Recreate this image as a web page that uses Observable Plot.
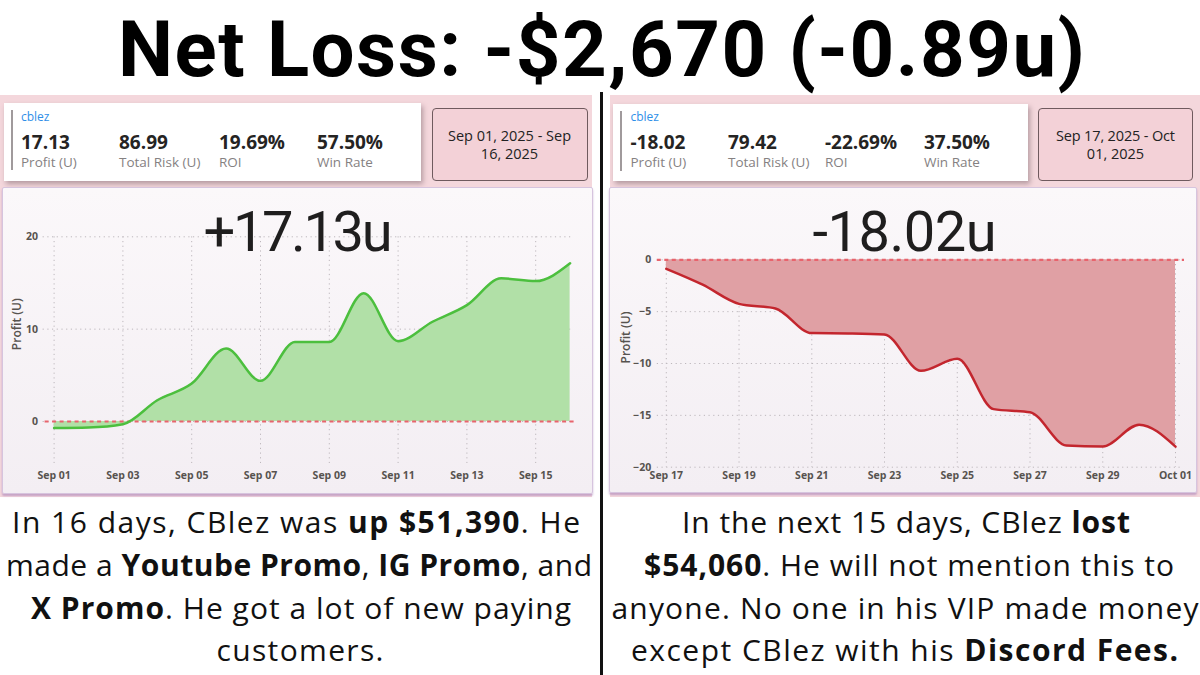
<!DOCTYPE html>
<html><head><meta charset="utf-8">
<script src="https://cdn.jsdelivr.net/npm/d3@7"></script>
<script src="https://cdn.jsdelivr.net/npm/@observablehq/plot@0.6"></script>
<style>
html,body{margin:0;padding:0;background:#fff;width:1200px;height:675px;overflow:hidden;}
#root{position:relative;width:1200px;height:675px;}
.abs{position:absolute;}
.pink{background:#f4d7dc;}
.kpi{background:#fff;box-shadow:2px 3px 5px rgba(60,40,50,.35);}
.date{background:#f3d1d7;border:1px solid #6f5a5e;border-radius:4px;box-sizing:border-box;}
.card{background:linear-gradient(#fbf8fa,#f3eef3);border:1.5px solid #d6c4de;box-sizing:border-box;box-shadow:0 2px 2px rgba(160,120,180,.55);border-radius:2px;}
.accent{background:#a09a9c;}
svg{overflow:visible;}
</style></head><body><div id="root">
<div class="abs pink" style="left:0;top:95px;width:592px;height:402px"></div>
<div class="abs pink" style="left:610px;top:95px;width:590px;height:402px"></div>
<div class="abs" style="left:600px;top:92px;width:3px;height:583px;background:#111"></div>
<div class="abs kpi" style="left:4px;top:103px;width:417px;height:78px"></div>
<div class="abs accent" style="left:11px;top:110px;width:1.5px;height:60px"></div>
<div class="abs date" style="left:432px;top:108px;width:156px;height:73px"></div>
<div class="abs card" style="left:2px;top:187px;width:591px;height:307px"></div>
<div class="abs kpi" style="left:613px;top:104px;width:415px;height:77px"></div>
<div class="abs accent" style="left:620px;top:111px;width:1.5px;height:60px"></div>
<div class="abs date" style="left:1038px;top:108px;width:155px;height:73px"></div>
<div class="abs card" style="left:609px;top:187px;width:588px;height:306px"></div>
<div id="leftChart" class="abs" style="left:3px;top:187px"></div>
<div id="rightChart" class="abs" style="left:610px;top:187px"></div>
<svg id="overlay" class="abs" style="left:0;top:0" width="1200" height="675"></svg>
</div>
<script>
// ---------- data ----------
const titleText = "Net Loss: -$2,670 (-0.89u)";

const leftDates = ["2025-09-01","2025-09-02","2025-09-03","2025-09-04","2025-09-05","2025-09-06","2025-09-07","2025-09-08",
  "2025-09-09","2025-09-10","2025-09-11","2025-09-12","2025-09-13","2025-09-14","2025-09-15","2025-09-16"];
const leftProfit = [-0.7, -0.65, -0.3, 2.3, 4.1, 7.9, 4.4, 8.6, 8.6, 13.9, 8.7, 10.8, 12.6, 15.5, 15.2, 17.13];
const leftXTicks = ["2025-09-01","2025-09-03","2025-09-05","2025-09-07","2025-09-09","2025-09-11","2025-09-13","2025-09-15"];
const leftYTicks = [0, 10, 20];

const rightDates = ["2025-09-17","2025-09-18","2025-09-19","2025-09-20","2025-09-21","2025-09-22","2025-09-23","2025-09-24",
  "2025-09-25","2025-09-26","2025-09-27","2025-09-28","2025-09-29","2025-09-30","2025-10-01"];
const rightProfit = [-0.87, -2.4, -4.25, -4.7, -7.07, -7.1, -7.2, -10.7, -9.55, -14.4, -14.7, -17.9, -18.0, -15.9, -18.02];
const rightXTicks = ["2025-09-17","2025-09-19","2025-09-21","2025-09-23","2025-09-25","2025-09-27","2025-09-29","2025-10-01"];
const rightYTicks = [0, -5, -10, -15, -20];

const kpiLabels = ["Profit (U)", "Total Risk (U)", "ROI", "Win Rate"];
const leftKpiValues = ["17.13", "86.99", "19.69%", "57.50%"];
const rightKpiValues = ["-18.02", "79.42", "-22.69%", "37.50%"];
const userName = "cblez";
const leftDateRange = ["Sep 01, 2025 - Sep", "16, 2025"];
const rightDateRange = ["Sep 17, 2025 - Oct", "01, 2025"];
const leftBig = "+17.13u";
const rightBig = "-18.02u";
const yLabel = "Profit (U)";

const leftParagraph = [
  [["In 16 days, CBlez was ", 0], ["up $51,390", 1], [". He", 0]],
  [["made a ", 0], ["Youtube Promo", 1], [", ", 0], ["IG Promo", 1], [", and", 0]],
  [["X Promo", 1], [". He got a lot of new paying", 0]],
  [["customers.", 0]]
];
const rightParagraph = [
  [["In the next 15 days, CBlez ", 0], ["lost", 1]],
  [["$54,060", 1], [". He will not mention this to", 0]],
  [["anyone. No one in his VIP made money", 0]],
  [["except CBlez with his ", 0], ["Discord Fees.", 1]]
];

// ---------- charts ----------
const parse = d3.utcParse("%Y-%m-%d");
const leftData = leftDates.map((d, i) => ({date: parse(d), profit: leftProfit[i]}));
const rightData = rightDates.map((d, i) => ({date: parse(d), profit: rightProfit[i]}));
const fmt = d3.utcFormat("%b %d");
const gridStyle = {stroke: "#bdb7bc", strokeOpacity: 1, strokeDasharray: "1.2,3.5", strokeWidth: 1};
const chartStyle = {background: "transparent", fontFamily: "'Open Sans', sans-serif", fontSize: "10.5px", fontWeight: "700", color: "#57534f", overflow: "visible"};

function chart({data, xt, yt, yDomain, width, height, mL, mR, mT, mB, fill, stroke, gridL, gridR, zeroL, zeroR, xPad, yPad, labelDx}) {
  return Plot.plot({
    width, height, marginLeft: mL, marginRight: mR, marginTop: mT, marginBottom: mB,
    style: chartStyle,
    x: {type: "utc", domain: d3.extent(data, d => d.date)},
    y: {domain: yDomain},
    marks: [
      Plot.gridY(yt, {...gridStyle, insetLeft: gridL, insetRight: gridR}),
      Plot.gridX(xt.map(parse), gridStyle),
      Plot.areaY(data, {x: "date", y: "profit", curve: "monotone-x", fill}),
      Plot.ruleY([0], {stroke: "#e8646d", strokeWidth: 2.2, strokeDasharray: "4,3.5", insetLeft: zeroL, insetRight: zeroR}),
      Plot.lineY(data, {x: "date", y: "profit", curve: "monotone-x", stroke, strokeWidth: 2.5}),
      Plot.axisX(xt.map(parse), {tickSize: 0, tickPadding: xPad, tickFormat: fmt, label: null, fill: "#57534f"}),
      Plot.axisY(yt, {tickSize: 0, tickPadding: yPad, label: null, fill: "#57534f"}),
      Plot.text([yLabel], {text: d => d, frameAnchor: "left", rotate: -90, dx: labelDx, fontSize: 12, fontWeight: 600, fill: "#57534f"})
    ]
  });
}

document.getElementById("leftChart").append(chart({
  data: leftData, xt: leftXTicks, yt: leftYTicks, yDomain: [-4.55, 20],
  width: 589, height: 306, mL: 50.6, mR: 22.4, mT: 49.3, mB: 30,
  fill: "#b1e0a7", stroke: "#4cbf3e", gridL: -11, gridR: -4, zeroL: -9, zeroR: -5, xPad: 8, yPad: 16, labelDx: -37
}));
document.getElementById("rightChart").append(chart({
  data: rightData, xt: rightXTicks, yt: rightYTicks, yDomain: [-20, 0],
  width: 586, height: 305, mL: 55.8, mR: 21, mT: 72.3, mB: 25.3,
  fill: "#e0a0a4", stroke: "#c3262e", gridL: -9, gridR: -6, zeroL: -9, zeroR: -9, xPad: 4, yPad: 15, labelDx: -40
}));

// ---------- overlay text ----------
const ov = d3.select("#overlay");
function txt({x, y, size, weight = 400, fill = "#111", family = "'Open Sans', sans-serif", anchor = "start", len = null, parts}) {
  const t = ov.append("text").attr("x", x).attr("y", y).attr("font-size", size).attr("font-weight", weight)
    .attr("fill", fill).attr("font-family", family).attr("text-anchor", anchor);
  if (len) t.attr("textLength", len).attr("lengthAdjust", "spacing");
  for (const [s, b] of parts) t.append("tspan").attr("font-weight", b ? 700 : weight).text(s);
  return t;
}

txt({x: 601.5, y: 76, size: 78, weight: 700, fill: "#000", family: "Roboto, sans-serif", anchor: "middle", len: 967, parts: [[titleText, 0]]});

// KPI cards
function kpi(x0, cols, values) {
  txt({x: x0, y: 121, size: 12, fill: "#2f8fe8", parts: [[userName, 0]]});
  values.forEach((v, i) => {
    txt({x: cols[i], y: 148.5, size: 19, weight: 700, fill: "#252423", parts: [[v, 0]]});
    txt({x: cols[i], y: 167, size: 13.5, weight: 400, fill: "#858182", parts: [[kpiLabels[i], 0]]});
  });
}
kpi(21, [21, 119, 219, 317], leftKpiValues);
kpi(630.5, [630.5, 728, 825, 924], rightKpiValues);

function dateCard(cx, lines, len) {
  txt({x: cx, y: 141, size: 14.5, weight: 500, fill: "#222", anchor: "middle", len, parts: [[lines[0], 0]]});
  txt({x: cx, y: 158.5, size: 14.5, weight: 500, fill: "#222", anchor: "middle", parts: [[lines[1], 0]]});
}
dateCard(509.5, leftDateRange, 123);
dateCard(1115.5, rightDateRange, 119);

// big numbers
txt({x: 298, y: 250.5, size: 56, weight: 400, fill: "#1f1e1e", family: "Roboto, sans-serif", anchor: "middle", len: 189, parts: [[leftBig, 0]]});
txt({x: 904.5, y: 250.5, size: 56, weight: 400, fill: "#1f1e1e", family: "Roboto, sans-serif", anchor: "middle", len: 184, parts: [[rightBig, 0]]});

// paragraphs
const baselines = [533, 576, 619, 661];
const leftCenters = [296, 299, 301, 300], leftLens = [568, 586, 540, 167];
const rightCenters = [906, 909, 905, 904.5], rightLens = [448, 530, 587, 547];
leftParagraph.forEach((parts, i) => txt({x: leftCenters[i], y: baselines[i], size: 30, fill: "#111", anchor: "middle", len: leftLens[i], parts}));
rightParagraph.forEach((parts, i) => txt({x: rightCenters[i], y: baselines[i], size: 30, fill: "#111", anchor: "middle", len: rightLens[i], parts}));
</script>
</body></html>
